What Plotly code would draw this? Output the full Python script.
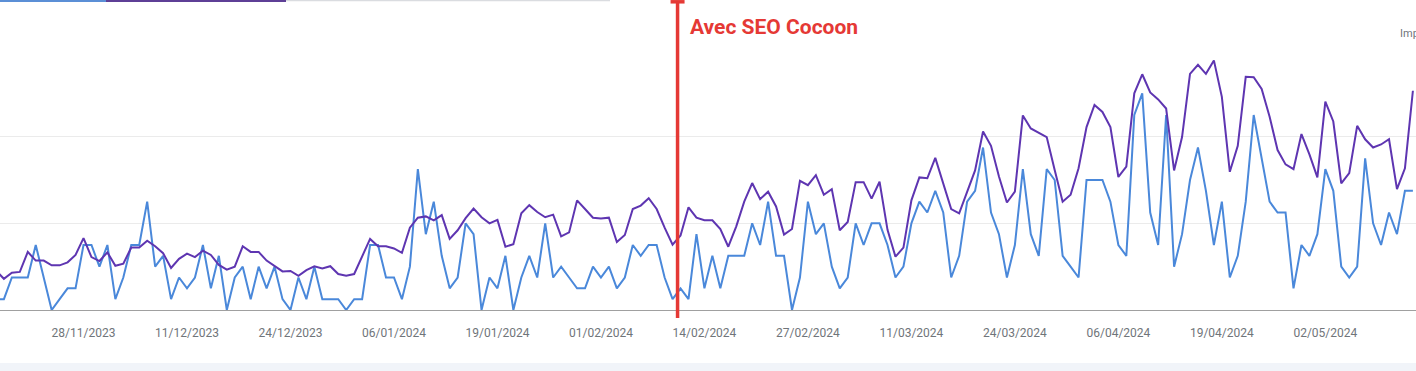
import pandas as pd
import plotly.graph_objects as go

# ---- data (daily, starting 17/11/2023) ----
start_date = "2023-11-17"
clicks = [1, 1, 3, 3, 3, 6, 3, 0, 1, 2, 2, 6, 6, 4, 6, 1, 3, 6, 6, 10,
          4, 5, 1, 3, 2, 3, 6, 2, 5, 0, 3, 4, 1, 4, 2, 4, 1, 0, 3, 1,
          4, 1, 1, 1, 0, 1, 1, 6, 6, 3, 3, 1, 4, 13, 7, 10, 5, 2, 3, 8,
          7, 0, 3, 2, 5, 0, 3, 5, 3, 8, 3, 4, 3, 2, 2, 4, 3, 4, 2, 3,
          6, 5, 6, 6, 3, 1, 2, 1, 7, 2, 5, 2, 5, 5, 5, 8, 6, 10, 5, 5,
          0, 3, 10, 7, 8, 4, 2, 3, 8, 6, 8, 8, 6, 3, 4, 8, 10, 9, 11, 9,
          3, 5, 10, 11, 15, 9, 7, 3, 6, 13, 7, 5, 13, 12, 5, 4, 3, 12, 12, 12,
          10, 6, 5, 18, 20, 9, 6, 18, 4, 7, 12, 15, 11, 6, 10, 3, 5, 10, 18, 14,
          10, 9, 9, 2, 6, 5, 7, 13, 11, 4, 3, 4, 14, 8, 6, 9, 7, 11, 11]
impressions = [91, 72, 86, 88, 134, 114, 114, 103, 103, 110, 127, 166, 122, 113, 133, 102, 107, 144, 144, 160,
               147, 131, 97, 118, 130, 122, 137, 127, 104, 93, 100, 147, 134, 134, 114, 101, 89, 90, 79, 92,
               101, 96, 101, 83, 79, 83, 124, 164, 147, 147, 142, 132, 190, 213, 216, 207, 219, 164, 184, 212,
               234, 214, 200, 208, 146, 152, 223, 242, 226, 214, 220, 170, 179, 253, 233, 213, 211, 213, 157, 173,
               233, 241, 258, 233, 190, 151, 172, 237, 213, 207, 207, 187, 146, 193, 250, 293, 256, 273, 239, 174,
               187, 298, 288, 311, 266, 279, 184, 203, 295, 295, 257, 296, 185, 123, 144, 253, 306, 304, 351, 293,
               233, 223, 271, 322, 412, 379, 308, 248, 273, 449, 419, 408, 399, 323, 250, 266, 327, 422, 473, 457,
               422, 307, 331, 500, 544, 502, 486, 465, 322, 399, 545, 566, 545, 576, 492, 319, 379, 538, 537, 510,
               446, 369, 336, 325, 406, 359, 306, 481, 435, 292, 316, 425, 394, 375, 382, 394, 279, 327, 506]
dates = pd.date_range(start_date, periods=len(clicks), freq="D")

tick_dates = ["2023-11-28", "2023-12-11", "2023-12-24", "2024-01-06", "2024-01-19",
              "2024-02-01", "2024-02-14", "2024-02-27", "2024-03-11", "2024-03-24",
              "2024-04-06", "2024-04-19", "2024-05-02"]
cut_tick = "2023-11-15"
event_date = "2024-02-10 15:00"
event_label = "Avec SEO Cocoon"

x_range = ["2023-11-17 12:14", "2024-05-13 09:20"]

BLUE = "#4A88DA"
PURPLE = "#5E35B1"
RED = "#E53935"
GRID = "#EBEBEB"
LABEL = "#70757A"

fig = go.Figure()
fig.add_trace(go.Scatter(x=dates, y=clicks, mode="lines", name="Clics",
                         line=dict(color=BLUE, width=2), yaxis="y"))
fig.add_trace(go.Scatter(x=dates, y=impressions, mode="lines", name="Impressions",
                         line=dict(color=PURPLE, width=2), yaxis="y2"))

H_PLOT = 260.0
def py(px):
    return (310.0 - px) / H_PLOT

shapes = [
    # event vertical line
    dict(type="line", xref="x", yref="paper", x0=event_date, x1=event_date,
         y0=py(318), y1=py(2), line=dict(color=RED, width=3.5), layer="above"),
    dict(type="line", xref="x", yref="paper", xsizemode="pixel", xanchor=event_date,
         x0=-7, x1=7, y0=py(1.8), y1=py(1.8), line=dict(color=RED, width=3.5), layer="above"),
    # tab indicator fragments at top
    dict(type="rect", xref="paper", yref="paper", x0=0, x1=106/1416, y0=py(2), y1=py(0),
         fillcolor="#5B8FD6", line=dict(width=0)),
    dict(type="rect", xref="paper", yref="paper", x0=106/1416, x1=286/1416, y0=py(2), y1=py(0),
         fillcolor="#5E3F96", line=dict(width=0)),
    dict(type="rect", xref="paper", yref="paper", x0=286/1416, x1=610/1416, y0=py(1.3), y1=py(0),
         fillcolor="#DADCE0", line=dict(width=0)),
    # bottom band
    dict(type="rect", xref="paper", yref="paper", x0=0, x1=1, y0=py(371), y1=py(363),
         fillcolor="#F1F4F9", line=dict(width=0), layer="below"),
]

annotations = [
    dict(x=event_date, y=py(27), xref="x", yref="paper", text=event_label, showarrow=False,
         xanchor="left", yanchor="middle", xshift=10,
         font=dict(family="Roboto", size=21, color=RED, weight="bold")),
    dict(x=1398/1416, y=py(33), xref="paper", yref="paper", text="Impressions", showarrow=False,
         xanchor="left", yanchor="middle", font=dict(family="Roboto", size=11, color=LABEL)),
    dict(x=cut_tick, y=py(331), xref="x", yref="paper", text="15/11/2023", showarrow=False,
         xanchor="center", yanchor="middle", font=dict(family="Roboto", size=12, color=LABEL)),
]

fig.update_layout(
    width=1416, height=371,
    margin=dict(l=0, r=0, t=50, b=61),
    paper_bgcolor="white", plot_bgcolor="white",
    showlegend=False,
    font=dict(family="Roboto", size=12, color=LABEL),
    shapes=shapes, annotations=annotations,
    xaxis=dict(type="date", range=x_range, tickvals=tick_dates, tickformat="%d/%m/%Y",
               showgrid=False, zeroline=False, showline=True, linecolor="#A0A0A0", linewidth=1,
               ticks="", ticklabelstandoff=12, tickfont=dict(family="Roboto", size=12, color=LABEL),
               fixedrange=True),
    yaxis=dict(range=[0, 24], tickvals=[0, 8, 16, 24], showticklabels=False, showgrid=True,
               gridcolor=GRID, gridwidth=1, zeroline=False, fixedrange=True),
    yaxis2=dict(range=[0, 600], overlaying="y", side="right", showticklabels=False,
                showgrid=False, zeroline=False, fixedrange=True),
    hovermode=False,
)

fig.write_html("out.html", config={"displayModeBar": False},
               post_script="document.body.style.margin='0';document.body.style.overflow='hidden';")
